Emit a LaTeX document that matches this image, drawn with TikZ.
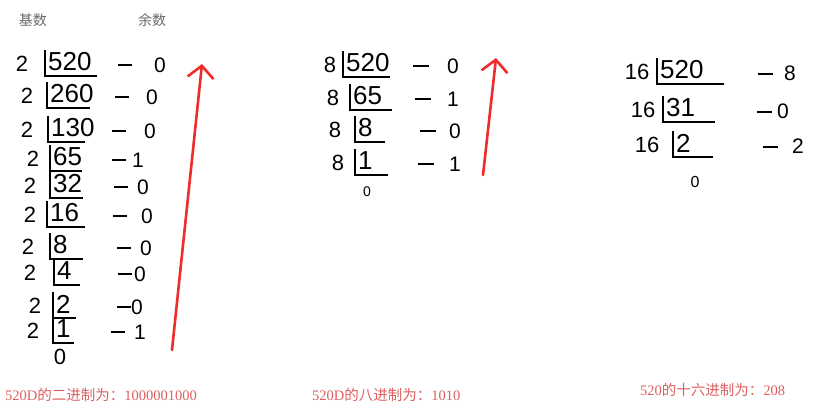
\documentclass[tikz,border=0pt]{standalone}
\usepackage{fontspec}
\setmainfont{Liberation Sans}
\newfontfamily\cjkfont{Noto Sans CJK SC}
\newfontfamily\notefont{Liberation Serif}
\usetikzlibrary{arrows.meta,positioning}
\definecolor{penred}{RGB}{238,44,44}
\definecolor{notered}{RGB}{222,96,96}
\definecolor{headgray}{RGB}{105,105,105}

\begin{document}
\begin{tikzpicture}[
    x=1pt, y=-1pt,
    divisor/.style={inner sep=0pt, font=\fontsize{22}{24}\selectfont},
    quotient/.style={anchor=west, inner sep=0pt, font=\fontsize{26}{28}\selectfont},
    remainder/.style={inner sep=0pt, font=\fontsize{21}{23}\selectfont},
    bar/.style={line width=1.2pt, black},
    head/.style={text=headgray, font=\cjkfont\fontsize{14}{15}\selectfont},
    result/.style={text=notered, anchor=west, inner sep=0pt, font=\fontsize{14.5}{16}\selectfont},
    arrowup/.style={penred, line width=2.6pt, line cap=round, -{Straight Barb[length=12pt,width=26pt,line width=2.6pt]}}
]
\useasboundingbox (0,0) rectangle (815,410);
\fill[white] (0,0) rectangle (815,410);

% Headers
\node[head] (basehead) at (33,20) {基数};
\node[head] (resthead) at (152,20) {余数};

% Base 2
\foreach \i/\q/\r/\dx/\y/\bx/\ex/\d/\rx in {
    1/520/0/22/64/45/97/118/160,
    2/260/0/27/96/47/90/115/152,
    3/130/0/27/130/48/85/112/150,
    4/65/1/33/159/50/82/112/138,
    5/32/0/30/186/50/83/114/143,
    6/16/0/30/215/47/85/113/147,
    7/8/0/28/247/50/83/117/146,
    8/4/0/30/273/54/80/118/140,
    9/2/0/35/306/53/76/117/137,
    10/1/1/33/331/53/74/111/140} {
  \node[divisor] (two-\i) at (\dx,\y) {2};
  \node[quotient] (q2-\i) at (\bx+3,\y-2) {\q};
  \draw[bar] (\bx,\y-14) -- (\bx,\y+12) -- (\ex,\y+12);
  \node[remainder] (r2-\i) at (\rx,\y+1) {\r};
  \draw[bar] (\d,\y+1) -- (\d+14,\y+1);
}
\node[remainder, font=\fontsize{22}{24}\selectfont] (q2-end) at (60,357) {0};

% Base 8
\foreach \i/\q/\r/\dx/\y/\bx/\ex/\d/\rx in {
    1/520/0/330/65/343/390/413/453,
    2/65/1/333/98/350/392/415/453,
    3/8/0/335/130/355/385/420/455,
    4/1/1/338/163/355/388/418/455} {
  \node[divisor] (eight-\i) at (\dx,\y) {8};
  \node[quotient] (q8-\i) at (\bx+3,\y-2) {\q};
  \draw[bar] (\bx,\y-14) -- (\bx,\y+12) -- (\ex,\y+12);
  \node[remainder] (r8-\i) at (\rx,\y+1) {\r};
  \draw[bar] (\d,\y+1) -- (\d+16,\y+1);
}
\node[remainder, font=\fontsize{14}{15}\selectfont] (q8-end) at (367,192) {0};

% Base 16
\foreach \i/\q/\r/\dx/\y/\bx/\ex/\d/\rx in {
    1/520/8/637/72/657/724/758/790,
    2/31/0/643/110/663/715/757/783,
    3/2/2/647/145/673/713/763/798} {
  \node[divisor] (sixteen-\i) at (\dx,\y) {16};
  \node[quotient] (q16-\i) at (\bx+3,\y-2) {\q};
  \draw[bar] (\bx,\y-14) -- (\bx,\y+12) -- (\ex,\y+12);
  \node[remainder] (r16-\i) at (\rx,\y+1) {\r};
  \draw[bar] (\d,\y+2) -- (\d+15,\y+2);
}
\node[remainder, font=\fontsize{16}{17}\selectfont] (q16-end) at (695,182) {0};

% Read-up arrows
\coordinate (up2-start) at (172,350);
\coordinate (up2-end) at (202,64);
\coordinate (up8-start) at (483,175);
\coordinate (up8-end) at (496,58);
\draw[arrowup] (up2-start) -- (up2-end);
\draw[arrowup] (up8-start) -- (up8-end);

% Results
\node[result] (res2) at (5,395) {\notefont 520D\cjkfont 的二进制为：\notefont 1000001000};
\node[result] (res8) at (312,395) {\notefont 520D\cjkfont 的八进制为：\notefont 1010};
\node[result] (res16) at (640,390) {\notefont 520\cjkfont 的十六进制为：\notefont 208};

\end{tikzpicture}
\end{document}
